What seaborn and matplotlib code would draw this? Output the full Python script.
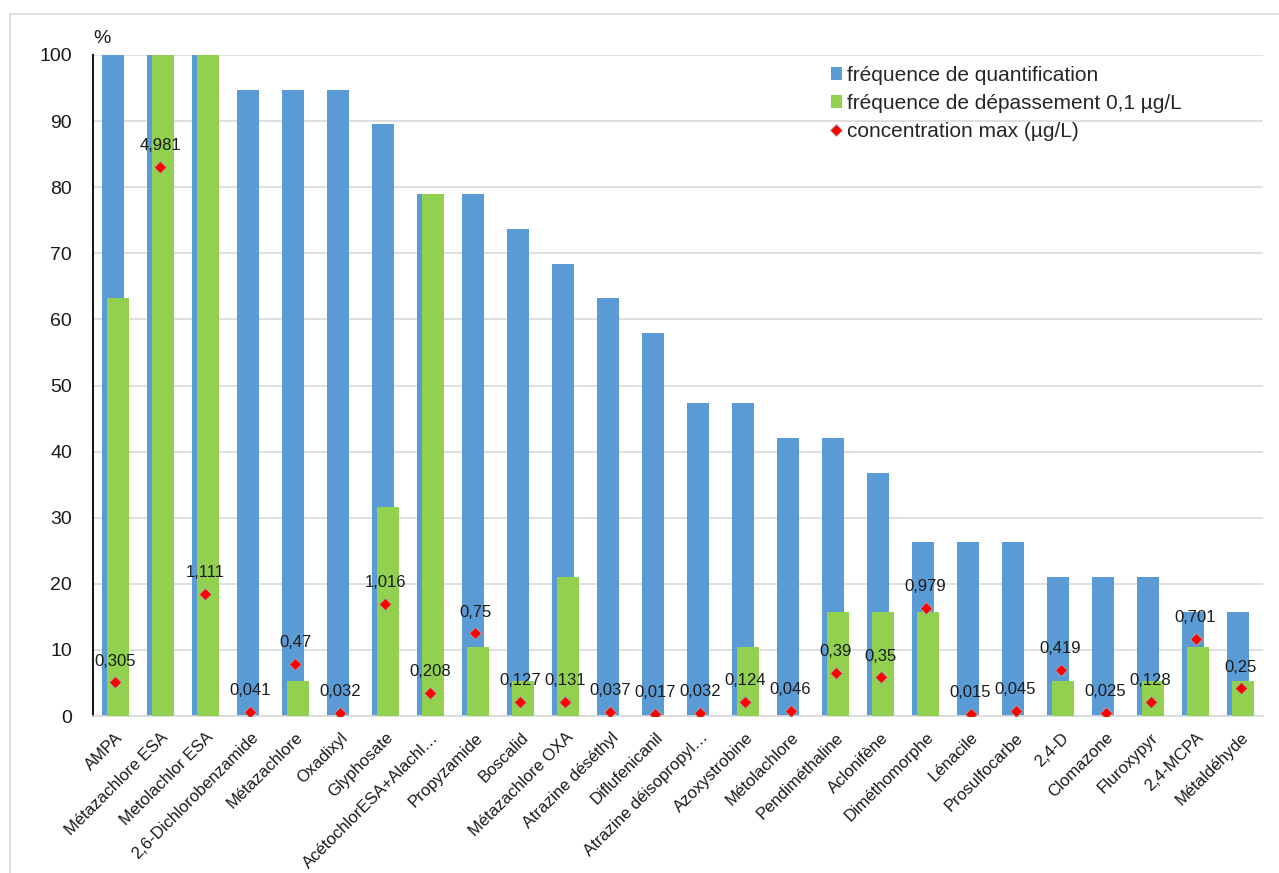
import numpy as np
import pandas as pd
import matplotlib
matplotlib.use("Agg")
import matplotlib.pyplot as plt
from matplotlib.lines import Line2D
from matplotlib.patches import Patch
import seaborn as sns

substances = [
    "AMPA", "Métazachlore ESA", "Metolachlor ESA", "2,6-Dichlorobenzamide",
    "Métazachlore", "Oxadixyl", "Glyphosate", "AcétochlorESA+Alachl…",
    "Propyzamide", "Boscalid", "Métazachlore OXA", "Atrazine déséthyl",
    "Diflufenicanil", "Atrazine déisopropyl…", "Azoxystrobine", "Métolachlore",
    "Pendiméthaline", "Aclonifène", "Diméthomorphe", "Lénacile",
    "Prosulfocarbe", "2,4-D", "Clomazone", "Fluroxypyr", "2,4-MCPA",
    "Métaldéhyde",
]
freq_quantification = [
    100, 100, 100, 94.7, 94.7, 94.7, 89.5, 78.9, 78.9, 73.7, 68.4, 63.2,
    57.9, 47.4, 47.4, 42.1, 42.1, 36.8, 26.3, 26.3, 26.3, 21.1, 21.1, 21.1,
    15.8, 15.8,
]
freq_depassement = [
    63.2, 100, 100, 0, 5.3, 0, 31.6, 78.9, 10.5, 5.3, 21.1, 0,
    0, 0, 10.5, 0, 15.8, 15.8, 15.8, 0, 0, 5.3, 0, 5.3,
    10.5, 5.3,
]
conc_max = [
    0.305, 4.981, 1.111, 0.041, 0.47, 0.032, 1.016, 0.208, 0.75, 0.127,
    0.131, 0.037, 0.017, 0.032, 0.124, 0.046, 0.39, 0.35, 0.979, 0.015,
    0.045, 0.419, 0.025, 0.128, 0.701, 0.25,
]
y_ticks = list(range(0, 101, 10))

BLUE = "#5B9BD5"
GREEN = "#92D050"
RED = "#FF0000"

sns.set_theme(style="white")
plt.rcParams["font.family"] = ["Liberation Sans", "DejaVu Sans"]

df = pd.DataFrame({
    "substance": substances,
    "quant": freq_quantification,
    "depass": freq_depassement,
    "conc": conc_max,
})

fig = plt.figure(figsize=(12.79, 8.73), dpi=100)
ax = fig.add_axes([0.0727, 0.1798, 0.9148, 0.7572])

# horizontal gridlines behind the bars
ax.set_axisbelow(True)
ax.yaxis.grid(True, color="#D9D9D9", linewidth=1.2)

sns.barplot(data=df, x="substance", y="quant", color=BLUE, width=0.5,
            saturation=1, linewidth=0, ax=ax, zorder=2)
n_blue = len(ax.patches)
sns.barplot(data=df, x="substance", y="depass", color=GREEN, width=0.5,
            saturation=1, linewidth=0, ax=ax, zorder=3)

# overlap: quantification bars slightly left, exceedance bars slightly right
for i, p in enumerate(ax.patches):
    shift = -0.06 if i < n_blue else 0.06
    p.set_x(p.get_x() + shift)

# max concentration on a hidden secondary scale 0-6
ax2 = ax.twinx()
sns.scatterplot(data=df, x="substance", y="conc", marker="D", s=38,
                color=RED, edgecolor="#A6A6A6", linewidth=0.6, ax=ax2,
                zorder=5, legend=False)
ax2.set_ylim(0, 6)
ax2.set_yticks([])
ax2.set_ylabel("")
for s in ax2.spines.values():
    s.set_visible(False)

for i, v in enumerate(conc_max):
    ax2.annotate(f"{v:g}".replace(".", ","), (i, v), xytext=(0, 10),
                 textcoords="offset points", ha="center", va="bottom",
                 fontsize=12, color="#1a1a1a", zorder=6)

ax.set_xlim(-0.5, len(substances) - 0.5)
ax2.set_xlim(-0.5, len(substances) - 0.5)
ax.set_ylim(0, 100)
ax.set_yticks(y_ticks)
ax.set_yticklabels([str(t) for t in y_ticks], fontsize=14, color="#1a1a1a")
ax.set_xticks(range(len(substances)))
ax.set_xticklabels(substances, rotation=45, ha="right",
                   rotation_mode="anchor", fontsize=12, color="#1a1a1a")
ax.tick_params(axis="y", length=0, pad=15)
ax.tick_params(axis="x", length=0, pad=10)
ax.set_xlabel("")
ax.set_ylabel("")

for side in ("top", "right"):
    ax.spines[side].set_visible(False)
ax.spines["left"].set_color("#1a1a1a")
ax.spines["left"].set_linewidth(1.5)
ax.spines["bottom"].set_color("#D9D9D9")
ax.spines["bottom"].set_linewidth(1.2)

ax.text(0.0, 1.012, "%", transform=ax.transAxes, fontsize=14,
        ha="left", va="bottom", color="#1a1a1a")

handles = [
    Patch(facecolor=BLUE, edgecolor="none"),
    Patch(facecolor=GREEN, edgecolor="none"),
    Line2D([], [], marker="D", linestyle="none", markersize=6,
           markerfacecolor=RED, markeredgecolor="#A6A6A6", markeredgewidth=0.6),
]
labels = [
    "fréquence de quantification",
    "fréquence de dépassement 0,1 µg/L",
    "concentration max (µg/L)",
]
fig.legend(handles, labels, loc="upper left", bbox_to_anchor=(0.643, 0.934),
           frameon=False, fontsize=15, handlelength=0.55, handleheight=0.55,
           handletextpad=0.25, labelspacing=0.44, borderaxespad=0)

# light outer frame around the chart area
fig.add_artist(Line2D([10 / 1279, 10 / 1279], [0, 1 - 14 / 873],
                      transform=fig.transFigure, color="#D9D9D9", linewidth=1.2))
fig.add_artist(Line2D([10 / 1279, 1], [1 - 14 / 873, 1 - 14 / 873],
                      transform=fig.transFigure, color="#D9D9D9", linewidth=1.2))

fig.savefig("out.png", dpi=100)
